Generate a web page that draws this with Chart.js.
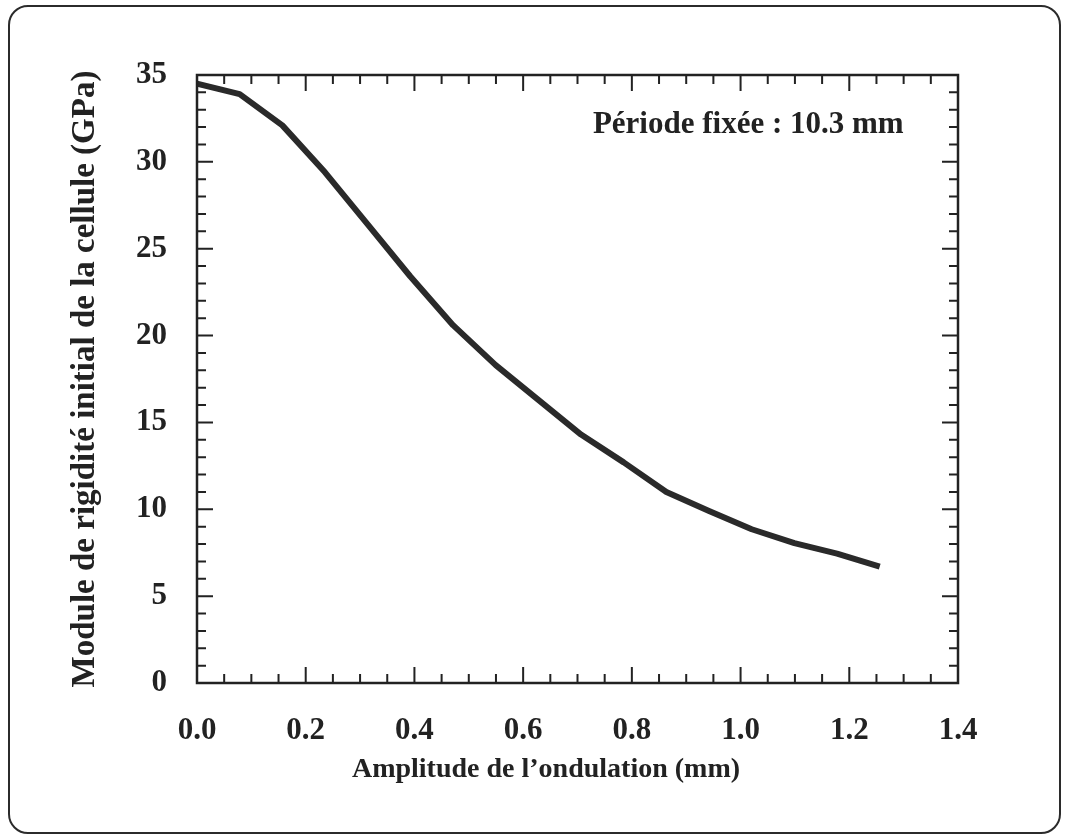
<!DOCTYPE html>
<html>
<head>
<meta charset="utf-8">
<script src="https://cdn.jsdelivr.net/npm/chart.js@4/dist/chart.umd.min.js"></script>
<style>
  html, body { margin: 0; padding: 0; background: #fff; }
  #wrap { position: relative; width: 1067px; height: 837px; }
  #frame {
    position: absolute; left: 8px; top: 5px; width: 1049px; height: 825px;
    border: 2px solid #2b2b2b; border-radius: 20px; pointer-events: none;
  }
</style>
</head>
<body>
<div id="wrap">
  <canvas id="chart" width="1067" height="837"></canvas>
  <div id="frame"></div>
</div>
<script>
// valeurs
const amplitude = [0, 0.0785, 0.157, 0.2355, 0.314, 0.3925, 0.471, 0.5495, 0.628,
  0.7065, 0.785, 0.8635, 0.942, 1.0205, 1.099, 1.1775, 1.256];
const module = [34.5, 33.9, 32.1, 29.4, 26.4, 23.4, 20.6, 18.3, 16.3,
  14.3, 12.7, 11.0, 9.9, 8.85, 8.05, 7.45, 6.7];
const xTicks = [0.0, 0.2, 0.4, 0.6, 0.8, 1.0, 1.2, 1.4];
const yTicks = [0, 5, 10, 15, 20, 25, 30, 35];

const serif = "'Liberation Serif', 'Times New Roman', serif";
const ink = '#222';

// cadre, graduations vers l'intérieur, titre x et annotation
const boxPlugin = {
  id: 'box',
  afterDraw(chart) {
    const { ctx, chartArea: a, scales: { x, y } } = chart;
    ctx.save();
    ctx.strokeStyle = ink;
    ctx.lineWidth = 2.5;
    ctx.strokeRect(a.left, a.top, a.right - a.left, a.bottom - a.top);
    ctx.lineWidth = 2;
    ctx.beginPath();
    for (let i = 0; i <= 28; i++) {
      const px = x.getPixelForValue(i * 0.05);
      const len = i % 4 === 0 ? 16 : 9;
      ctx.moveTo(px, a.bottom); ctx.lineTo(px, a.bottom - len);
      ctx.moveTo(px, a.top); ctx.lineTo(px, a.top + len);
    }
    for (let v = 0; v <= 35; v++) {
      const py = y.getPixelForValue(v);
      const len = v % 5 === 0 ? 16 : 9;
      ctx.moveTo(a.left, py); ctx.lineTo(a.left + len, py);
      ctx.moveTo(a.right, py); ctx.lineTo(a.right - len, py);
    }
    ctx.stroke();

    ctx.fillStyle = ink;
    ctx.textBaseline = 'middle';
    ctx.font = 'bold 31px ' + serif;
    ctx.textAlign = 'right';
    ctx.fillText('Période fixée : 10.3 mm', x.getPixelForValue(1.3), y.getPixelForValue(32.1));

    ctx.font = 'bold 28px ' + serif;
    ctx.textAlign = 'center';
    ctx.fillText('Amplitude de l’ondulation (mm)', 546, 770);
    ctx.restore();
  }
};

new Chart(document.getElementById('chart'), {
  type: 'line',
  data: {
    datasets: [{
      data: amplitude.map((a, i) => ({ x: a, y: module[i] })),
      borderColor: '#2a2a2a',
      borderWidth: 6,
      pointRadius: 0,
      tension: 0,
      borderJoinStyle: 'round',
      borderCapStyle: 'butt'
    }]
  },
  options: {
    responsive: false,
    animation: false,
    layout: { padding: { left: 62, right: 109, top: 75, bottom: 34 } },
    plugins: { legend: { display: false }, tooltip: { enabled: false } },
    scales: {
      x: {
        type: 'linear',
        min: 0, max: 1.4,
        afterBuildTicks: (s) => { s.ticks = xTicks.map(v => ({ value: v })); },
        afterFit: (s) => { s.height = 120; },
        grid: { display: false, drawTicks: false },
        border: { display: false },
        ticks: {
          padding: 29,
          color: ink,
          font: { family: serif, size: 31, weight: 'bold' },
          callback: (v) => Number(v).toFixed(1)
        },
        title: { display: false }
      },
      y: {
        min: 0, max: 35,
        afterBuildTicks: (s) => { s.ticks = yTicks.map(v => ({ value: v })); },
        afterFit: (s) => { s.width = 135; },
        grid: { display: false, drawTicks: false },
        border: { display: false },
        ticks: {
          padding: 30,
          color: ink,
          font: { family: serif, size: 31, weight: 'bold' }
        },
        title: {
          display: true,
          text: 'Module de rigidité initial de la cellule (GPa)',
          color: ink,
          font: { family: serif, size: 33, weight: 'bold' },
          padding: { top: 4, bottom: 0 }
        }
      }
    }
  },
  plugins: [boxPlugin]
});
</script>
</body>
</html>
